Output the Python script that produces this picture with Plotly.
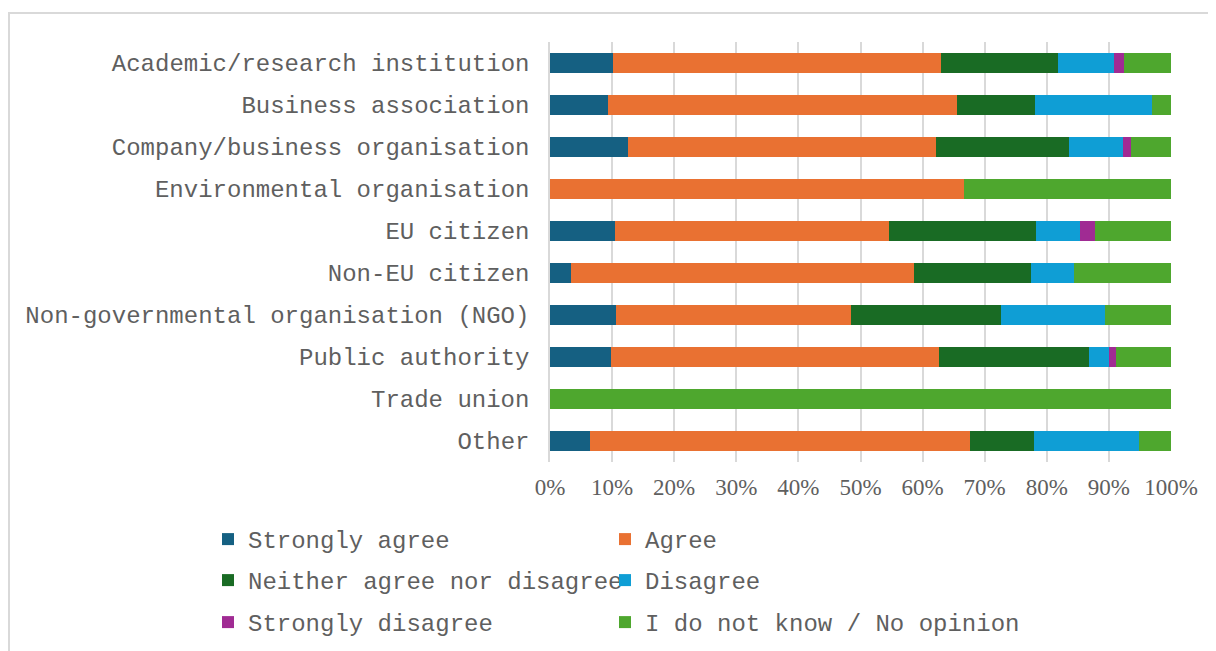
import plotly.graph_objects as go

categories = [
    "Academic/research institution",
    "Business association",
    "Company/business organisation",
    "Environmental organisation",
    "EU citizen",
    "Non-EU citizen",
    "Non-governmental organisation (NGO)",
    "Public authority",
    "Trade union",
    "Other",
]

strongly_agree = [10.1, 9.4, 12.6, 0.0, 10.5, 3.4, 10.6, 9.8, 0.0, 6.4]
agree = [52.9, 56.2, 49.5, 66.7, 44.1, 55.2, 37.9, 52.8, 0.0, 61.2]
neither = [18.8, 12.5, 21.5, 0.0, 23.6, 18.9, 24.2, 24.2, 0.0, 10.3]
disagree = [9.1, 18.8, 8.6, 0.0, 7.2, 6.9, 16.7, 3.2, 0.0, 16.9]
strongly_disagree = [1.5, 0.0, 1.4, 0.0, 2.4, 0.0, 0.0, 1.1, 0.0, 0.0]
no_opinion = [7.6, 3.1, 6.4, 33.3, 12.2, 15.6, 10.6, 8.9, 100.0, 5.2]

series = [
    ("Strongly agree", strongly_agree, "#156082"),
    ("Agree", agree, "#E97132"),
    ("Neither agree nor disagree", neither, "#196B24"),
    ("Disagree", disagree, "#0F9ED5"),
    ("Strongly disagree", strongly_disagree, "#A02B93"),
    ("I do not know / No opinion", no_opinion, "#4EA72E"),
]

W, H = 1216, 651
OFF = 8  # page body margin
# plot area in screen pixels
SL, SR, ST, SB = 550, 1171, 42, 462
L, T = SL - OFF, ST - OFF
R, B = W - (SR - OFF), H - (SB - OFF)
pw, ph = SR - SL, SB - ST


def px(x):
    return (x - SL) / pw


def py(y):
    return (SB - y) / ph


# legend grid (screen pixels): text start x, row top y
leg_cols = [208, 605]
leg_rows = [517, 558, 600]

TEXT = "#5f5f5f"

fig = go.Figure()
totals = [sum(s[1][i] for s in series) for i in range(len(categories))]
layout_legends = {}
for k, (name, vals, color) in enumerate(series):
    lname = "legend" if k == 0 else f"legend{k + 1}"
    fig.add_trace(go.Bar(
        y=categories,
        x=[v / t for v, t in zip(vals, totals)],
        name=name,
        orientation="h",
        legend=lname,
        marker=dict(color=color, line=dict(width=0)),
    ))
    layout_legends[lname] = dict(
        orientation="h",
        x=px(leg_cols[k % 2]), xanchor="left",
        y=py(leg_rows[k // 2]), yanchor="top",
        font=dict(family="Liberation Mono", size=24, color=TEXT),
        bgcolor="rgba(0,0,0,0)",
        itemwidth=30,
    )

fig.update_layout(
    width=W, height=H,
    barmode="stack",
    bargap=0.52,
    plot_bgcolor="white",
    paper_bgcolor="white",
    margin=dict(l=L, r=R, t=T, b=B, autoexpand=False),
    font=dict(family="Liberation Mono", size=24, color=TEXT),
    showlegend=True,
    shapes=[dict(
        type="rect", xref="paper", yref="paper",
        x0=px(9), x1=px(1240), y0=py(680), y1=py(13),
        line=dict(color="#d9d9d9", width=2), fillcolor="rgba(0,0,0,0)",
        layer="below",
    )],
    **layout_legends,
)

fig.update_xaxes(
    range=[0, 1],
    tickvals=[i / 10 for i in range(11)],
    tickformat=".0%",
    showgrid=True, gridcolor="#d9d9d9", gridwidth=1.5,
    zeroline=False,
    tickfont=dict(family="Liberation Serif", size=23, color=TEXT),
    ticklabelstandoff=9,
)
fig.update_yaxes(
    categoryorder="array",
    categoryarray=categories,
    autorange="reversed",
    showline=True, linecolor="#d9d9d9", linewidth=1.5,
    showgrid=False,
    tickfont=dict(family="Liberation Mono", size=24, color=TEXT),
    ticklabelstandoff=14,
)

fig.write_html("out.html")
